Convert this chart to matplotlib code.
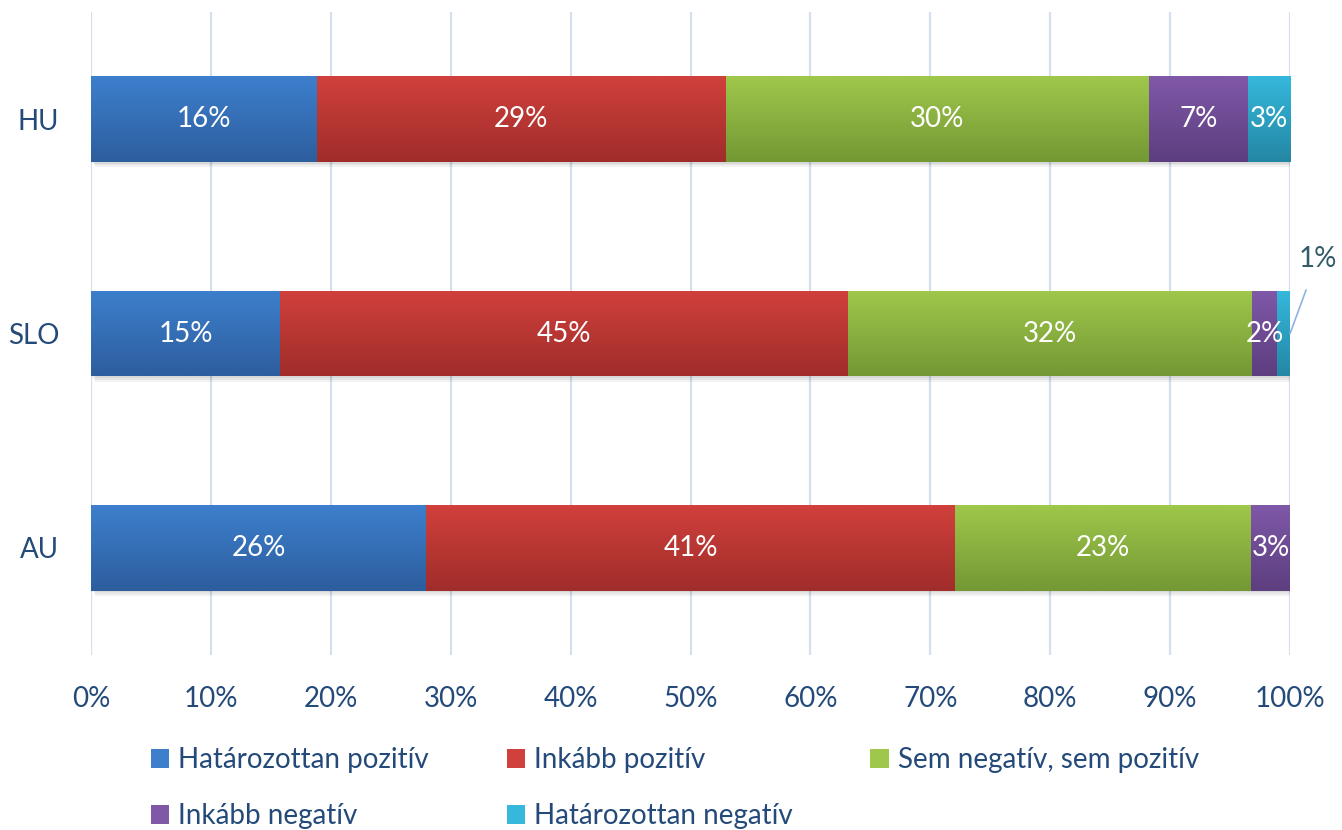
import numpy as np
import matplotlib
matplotlib.use("Agg")
import matplotlib.pyplot as plt
from matplotlib.patches import Rectangle
from matplotlib.colors import LinearSegmentedColormap

plt.rcParams["font.family"] = ["Lato", "DejaVu Sans"]

# adatok (a címkék a nyers értékek, a sávok 100%-ra normalizálva)
orszagok = ["HU", "SLO", "AU"]
kategoriak = ["Határozottan pozitív", "Inkább pozitív", "Sem negatív, sem pozitív",
              "Inkább negatív", "Határozottan negatív"]
hatarozottan_pozitiv = [16, 15, 26]
inkabb_pozitiv = [29, 45, 41]
semleges = [30, 32, 23]
inkabb_negativ = [7, 2, 3]
hatarozottan_negativ = [3, 1, 0]

# gradiens színek (felső, alsó)
szinek = [("#3D7FCD", "#2D5E9E"),
          ("#D0403C", "#A02D2A"),
          ("#9FC74B", "#749834"),
          ("#7F58A8", "#5D3E7F"),
          ("#35B8DC", "#2487A4")]

TEXT = "#244A7A"
GRID = "#D5DFEE"
FS = 20

sorozatok = np.array([hatarozottan_pozitiv, inkabb_pozitiv, semleges,
                      inkabb_negativ, hatarozottan_negativ], dtype=float)
osszeg = sorozatok.sum(axis=0)
arany = sorozatok / osszeg * 100

fig = plt.figure(figsize=(13.42, 8.30), dpi=100)
ax = fig.add_axes([0.0678, 0.2108, 0.8935, 0.7747])

y = np.arange(len(orszagok))
h = 0.40
bal = np.zeros(len(orszagok))

# lágy árnyék
for k, a in enumerate([0.05, 0.05, 0.05]):
    ax.barh(y + 0.008 * (k + 1), 100, height=h, left=0.12 * (k + 1),
            color="#000000", alpha=a, linewidth=0, zorder=1)

for i, kat in enumerate(kategoriak):
    rudak = ax.barh(y, arany[i], left=bal, height=h, color=szinek[i][0],
                    linewidth=0, zorder=2)
    cmap = LinearSegmentedColormap.from_list("g%d" % i, [szinek[i][0], szinek[i][1]])
    for j, r in enumerate(rudak):
        if arany[i][j] <= 0:
            continue
        x0, y0 = r.get_x(), r.get_y()
        w, hh = r.get_width(), r.get_height()
        im = ax.imshow(np.linspace(0, 1, 64).reshape(-1, 1), cmap=cmap, aspect="auto",
                       extent=(x0, x0 + w, y0 + hh, y0), origin="upper", zorder=3)
        im.set_clip_path(r)
        val = int(sorozatok[i][j])
        if orszagok[j] == "SLO" and i == 4:
            # kivezetett címke
            ax.annotate("%d%%" % val, xy=(x0 + w, y[j]), xytext=(102.3, y[j] - 0.35),
                        ha="center", va="center", fontsize=FS, color="#335B68",
                        arrowprops=dict(arrowstyle="-", color="#8DB3E2", lw=1.2,
                                        shrinkA=12, shrinkB=0),
                        annotation_clip=False, zorder=5)
        else:
            ax.text(x0 + w / 2, y[j], "%d%%" % val, ha="center", va="center",
                    fontsize=FS, color="white", zorder=5)
    bal += arany[i]

ax.set_xlim(0, 100)
ax.set_ylim(2.5, -0.5)
ax.set_xticks(np.arange(0, 101, 10))
ax.set_xticklabels(["%d%%" % v for v in range(0, 101, 10)])
ax.set_yticks(y)
ax.set_yticklabels(orszagok)
ax.tick_params(axis="x", length=0, pad=22, labelsize=FS, labelcolor=TEXT)
ax.tick_params(axis="y", length=0, pad=23, labelsize=FS, labelcolor=TEXT)
ax.grid(axis="x", color=GRID, linewidth=1.6, zorder=0)
ax.set_axisbelow(True)
for s in ax.spines.values():
    s.set_visible(False)

# jelmagyarázat soronként (matplotlib oszloponként tölt, ezért átrendezzük)
sorrend = [0, 3, 1, 4, 2]
fogantyuk = [Rectangle((0, 0), 1, 1, facecolor=szinek[i][0], edgecolor="none")
             for i in sorrend]
cimkek = [kategoriak[i] for i in sorrend]
fig.legend(fogantyuk, cimkek, loc="upper left", bbox_to_anchor=(0.1125, 0.100),
           ncol=3, frameon=False, fontsize=FS, labelcolor=TEXT,
           handlelength=0.65, handleheight=0.7, handletextpad=0.33,
           columnspacing=2.8, labelspacing=1.08, borderaxespad=0, borderpad=0)

fig.savefig("out.png", dpi=100)
